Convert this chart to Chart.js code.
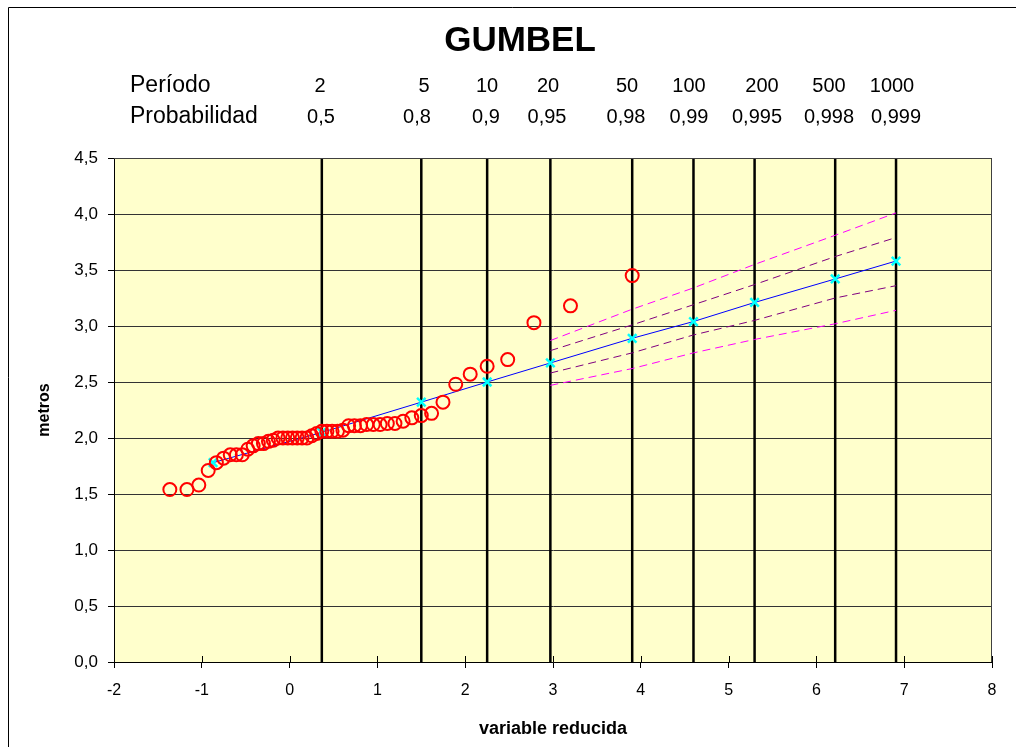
<!DOCTYPE html>
<html><head><meta charset="utf-8">
<script src="https://cdn.jsdelivr.net/npm/chart.js@4/dist/chart.umd.min.js"></script>
<style>html,body{margin:0;padding:0;background:#fff}#wrap{width:1016px;height:747px}</style>
</head><body><div id="wrap"><canvas id="c" width="1016" height="747"></canvas></div>
<script>
// ---- data ----
const chartTitle = 'GUMBEL';
const periodLabel = 'Período';
const probLabel = 'Probabilidad';
const periods = ['2','5','10','20','50','100','200','500','1000'];
const probabilities = ['0,5','0,8','0,9','0,95','0,98','0,99','0,995','0,998','0,999'];
const periodVariates = [0.367, 1.500, 2.250, 2.970, 3.902, 4.600, 5.296, 6.214, 6.907];
const obsX = [-1.364,-1.169,-1.034,-0.927,-0.834,-0.752,-0.676,-0.606,-0.539,-0.476,-0.415,-0.356,-0.298,-0.241,-0.186,-0.131,-0.076,-0.021,0.033,0.087,0.142,0.197,0.253,0.309,0.367,0.425,0.484,0.545,0.607,0.672,0.738,0.807,0.878,0.953,1.031,1.113,1.200,1.293,1.392,1.500,1.617,1.747,1.892,2.057,2.250,2.484,2.783,3.199,3.902];
const obsY = [1.54,1.54,1.58,1.71,1.78,1.82,1.85,1.85,1.85,1.90,1.93,1.95,1.95,1.97,1.98,2.00,2.00,2.00,2.00,2.00,2.00,2.00,2.02,2.04,2.06,2.06,2.06,2.06,2.07,2.11,2.11,2.11,2.12,2.12,2.12,2.13,2.13,2.15,2.18,2.20,2.22,2.32,2.48,2.57,2.64,2.70,3.03,3.18,3.45];
const fitX = [-0.872, 0.367, 1.500, 2.250, 2.970, 3.902, 4.600, 5.296, 6.214, 6.907];
const fitY = [1.78, 2.05, 2.32, 2.50, 2.67, 2.89, 3.04, 3.21, 3.42, 3.58];
const bandX = [2.970, 3.902, 4.600, 5.296, 6.214, 6.907];
const upperOuter = [2.87, 3.15, 3.34, 3.55, 3.81, 4.01];
const upperInner = [2.78, 3.01, 3.19, 3.37, 3.62, 3.79];
const lowerInner = [2.58, 2.76, 2.92, 3.05, 3.25, 3.36];
const lowerOuter = [2.47, 2.62, 2.76, 2.88, 3.02, 3.14];
const xMin = -2, xMax = 8, xStep = 1;
const yMin = 0, yMax = 4.5, yStep = 0.5;
const xTitle = 'variable reducida';
const yTitle = 'metros';

// ---- layout ----
const FONT = '"Liberation Sans", Arial, sans-serif';
const periodPos = [320, 424, 487, 548, 627, 689, 762, 829, 892];
const probPos = [321, 417, 486, 547, 626, 689, 757, 829, 896];

const pts = (xs, ys) => xs.map((x, i) => ({x: x, y: ys[i]}));
const vLines = [];
periodVariates.forEach(v => { vLines.push({x: v, y: yMin}, {x: v, y: yMax}, {x: v, y: null}); });

const deco = {
  id: 'deco',
  beforeDraw(chart) {
    const {ctx, chartArea: a} = chart;
    ctx.save();
    ctx.fillStyle = '#FFFFCC';
    ctx.fillRect(a.left, a.top, a.right - a.left, a.bottom - a.top);
    ctx.restore();
  },
  afterDraw(chart) {
    const {ctx, chartArea: a} = chart;
    ctx.save();
    ctx.strokeStyle = '#000'; ctx.lineWidth = 1;
    ctx.beginPath(); ctx.moveTo(8.5, 747); ctx.lineTo(8.5, 7.5); ctx.lineTo(1016, 7.5); ctx.stroke();
    ctx.strokeStyle = '#404040';
    ctx.beginPath(); ctx.moveTo(a.left, a.top + 0.5); ctx.lineTo(a.right - 0.5, a.top + 0.5); ctx.lineTo(a.right - 0.5, a.bottom); ctx.stroke();
    const xs = chart.scales.x;
    ctx.strokeStyle = '#000';
    xs.ticks.forEach(t => {
      const px = Math.round(xs.getPixelForValue(t.value)) + 0.5;
      ctx.beginPath(); ctx.moveTo(px, a.bottom - 6); ctx.lineTo(px, a.bottom); ctx.stroke();
    });
    ctx.fillStyle = '#000';
    ctx.textBaseline = 'alphabetic';
    ctx.textAlign = 'center';
    ctx.font = 'bold 35px ' + FONT;
    ctx.fillText(chartTitle, 520, 51);
    ctx.font = '23px ' + FONT;
    ctx.textAlign = 'left';
    ctx.fillText(periodLabel, 130, 92);
    ctx.fillText(probLabel, 130, 123);
    ctx.textAlign = 'center';
    ctx.font = '20px ' + FONT;
    periods.forEach((p, i) => ctx.fillText(p, periodPos[i], 92));
    probabilities.forEach((p, i) => ctx.fillText(p, probPos[i], 123));
    ctx.restore();
  }
};

new Chart(document.getElementById('c'), {
  type: 'scatter',
  data: {
    datasets: [
      {data: pts(obsX, obsY), order: 0, showLine: false, pointStyle: 'circle', pointRadius: 6.5, pointBorderWidth: 2,
       borderColor: '#FF0000', pointBorderColor: '#FF0000', backgroundColor: 'rgba(0,0,0,0)', pointBackgroundColor: 'rgba(0,0,0,0)'},
      {data: pts(fitX, fitY), order: 1, showLine: true, borderColor: '#0000FF', borderWidth: 1,
       pointStyle: 'crossRot', pointRadius: 6, pointBorderWidth: 2.5, pointBorderColor: '#00FFFF'},
      {data: pts(bandX, upperOuter), order: 2, showLine: true, borderColor: '#FF00FF', borderWidth: 1, borderDash: [8, 5], pointRadius: 0},
      {data: pts(bandX, lowerOuter), order: 2, showLine: true, borderColor: '#FF00FF', borderWidth: 1, borderDash: [8, 5], pointRadius: 0},
      {data: pts(bandX, upperInner), order: 2, showLine: true, borderColor: '#800080', borderWidth: 1, borderDash: [8, 5], pointRadius: 0},
      {data: pts(bandX, lowerInner), order: 2, showLine: true, borderColor: '#800080', borderWidth: 1, borderDash: [8, 5], pointRadius: 0},
      {data: vLines, order: 3, showLine: true, spanGaps: false, borderColor: '#000', borderWidth: 2.5, pointRadius: 0}
    ]
  },
  options: {
    responsive: false, animation: false, devicePixelRatio: 1,
    layout: {padding: {top: 158, right: 24, left: 0, bottom: 0}},
    plugins: {legend: {display: false}, tooltip: {enabled: false}},
    scales: {
      x: {
        type: 'linear', min: xMin, max: xMax,
        afterFit(s) { s.height = 85; },
        ticks: {stepSize: xStep, color: '#000', font: {family: FONT, size: 16}, padding: 13},
        grid: {drawOnChartArea: false, drawTicks: true, tickLength: 6, tickColor: '#000'},
        border: {color: '#000', width: 1},
        title: {display: true, text: xTitle, color: '#000', font: {family: FONT, size: 18, weight: 'bold'}, padding: {top: 0, bottom: 7}}
      },
      y: {
        type: 'linear', min: yMin, max: yMax,
        afterFit(s) { s.width = 114; },
        ticks: {stepSize: yStep, color: '#000', font: {family: FONT, size: 17}, padding: 10,
          callback: v => v.toFixed(1).replace('.', ',')},
        grid: {color: '#333', lineWidth: 1, tickLength: 6, tickColor: '#000'},
        border: {color: '#000', width: 1},
        title: {display: true, text: yTitle, color: '#000', font: {family: FONT, size: 16, weight: 'bold'}, padding: {top: 35, bottom: 0}}
      }
    }
  },
  plugins: [deco]
});
</script></body></html>
